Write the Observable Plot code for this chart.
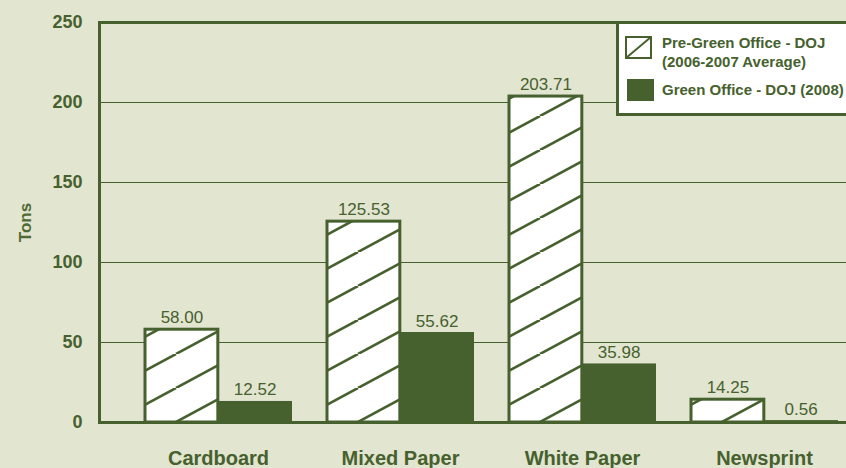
<!DOCTYPE html>
<html>
<head>
<meta charset="utf-8">
<script src="https://cdn.jsdelivr.net/npm/d3@7"></script>
<script src="https://cdn.jsdelivr.net/npm/@observablehq/plot@0.6"></script>
<style>
html, body { margin: 0; padding: 0; width: 846px; height: 468px; overflow: hidden; background: #e2e5d0; }
#chart { position: relative; width: 882px; height: 468px; }
#chart svg { display: block; background: transparent; font-family: "Liberation Sans", Arial, sans-serif; }
#chart svg g[aria-label="y-axis tick label"] text,
#chart svg g[aria-label="x-axis tick label"] text,
#chart svg g[aria-label="y-axis label"] text { font-weight: bold; }
.legend { position: absolute; left: 616px; top: 21px; width: 270px; height: 89px; border: 3px solid #46612e; background: #fff;
  font: bold 15px "Liberation Sans", Arial, sans-serif; color: #46612e; }
.legend .sw { position: absolute; }
.legend .t { position: absolute; left: 43px; line-height: 19px; white-space: nowrap; }
</style>
</head>
<body>
<div id="chart"></div>
<script>
// ---- data ----
const categories = ["Cardboard", "Mixed Paper", "White Paper", "Newsprint"];
const preGreen = [58.00, 125.53, 203.71, 14.25];
const greenOffice = [12.52, 55.62, 35.98, 0.56];
const yTicks = [0, 50, 100, 150, 200, 250];
const seriesNames = ["Pre-Green Office - DOJ (2006-2007 Average)", "Green Office - DOJ (2008)"];

// ---- layout / style ----
const GREEN = "#46612e";
const W = 882, H = 468, ML = 99, MR = 0, MT = 22, MB = 46;
const PAD_IN = 0.2, PAD_OUT = 0.24;
const step = (W - ML - MR) / (categories.length - PAD_IN + 2 * PAD_OUT);
const bw = step * (1 - PAD_IN);

const rows = categories.map((c, i) => ({category: c, pre: preGreen[i], green: greenOffice[i]}));

const svg = Plot.plot({
  width: W, height: H,
  marginLeft: ML, marginRight: MR, marginTop: MT, marginBottom: MB,
  style: {background: "transparent", color: GREEN},
  x: {domain: categories, paddingInner: PAD_IN, paddingOuter: PAD_OUT, tickSize: 0, tickPadding: 28, label: null},
  y: {domain: [0, 250], ticks: yTicks, tickSize: 0, tickPadding: 17, label: "Tons", labelAnchor: "center", labelOffset: 81, labelArrow: "none"},
  marks: [
    Plot.ruleY(yTicks.slice(1, -1), {stroke: GREEN, strokeWidth: 1}),
    Plot.barY(rows, {x: "category", y: "pre", fill: "white", stroke: GREEN, strokeWidth: 3, insetRight: bw / 2}),
    Plot.barY(rows, {x: "category", y: "green", fill: GREEN, stroke: GREEN, strokeWidth: 2, insetLeft: bw / 2}),
    Plot.text(rows, {x: "category", y: "pre", text: d => d.pre.toFixed(2), dx: -bw / 4, dy: -7, lineAnchor: "bottom", fontSize: 17, fill: GREEN}),
    Plot.text(rows, {x: "category", y: "green", text: d => d.green.toFixed(2), dx: bw / 4, dy: -7, lineAnchor: "bottom", fontSize: 17, fill: GREEN}),
    Plot.frame({stroke: GREEN, strokeWidth: 3})
  ]
});

// style axis text
svg.querySelectorAll('g[aria-label="y-axis tick label"]').forEach(g => { g.setAttribute("font-size", 18); g.setAttribute("fill", GREEN); });
svg.querySelectorAll('g[aria-label="x-axis tick label"]').forEach(g => { g.setAttribute("font-size", 20); g.setAttribute("fill", GREEN); });
svg.querySelectorAll('g[aria-label="y-axis label"]').forEach(g => { g.setAttribute("font-size", 17); g.setAttribute("fill", "#4f6b35"); });

// hatch patterns, anchored to each bar's bottom-left
const HH = 34, HW = 63;
const defs = d3.select(svg).insert("defs", ":first-child");
const barGroups = svg.querySelectorAll('g[aria-label="bar"]');
if (barGroups.length) {
  barGroups[0].querySelectorAll("rect").forEach((r, i) => {
    const x = +r.getAttribute("x"), y = +r.getAttribute("y"), h = +r.getAttribute("height");
    const id = "hatch" + i;
    const p = defs.append("pattern").attr("id", id).attr("patternUnits", "userSpaceOnUse")
      .attr("x", x + 31).attr("y", y + h).attr("width", HW).attr("height", HH);
    p.append("rect").attr("width", HW).attr("height", HH).attr("fill", "white");
    [[0, HH, HW, 0], [-HW, HH, 0, 0], [HW, HH, 2 * HW, 0]].forEach(([x1, y1, x2, y2]) =>
      p.append("line").attr("x1", x1).attr("y1", y1).attr("x2", x2).attr("y2", y2)
        .attr("stroke", GREEN).attr("stroke-width", 2.6));
    r.setAttribute("fill", `url(#${id})`);
  });
}

const chart = document.getElementById("chart");
chart.appendChild(svg);

// legend
const lg = document.createElement("div");
lg.className = "legend";
lg.innerHTML = `
  <svg class="sw" style="left:6px;top:12px" width="27" height="23"><rect x="1" y="1" width="25" height="21" fill="white" stroke="${GREEN}" stroke-width="2"/><line x1="1" y1="22" x2="26" y2="1" stroke="${GREEN}" stroke-width="2"/></svg>
  <div class="t" style="top:9px">Pre-Green Office - DOJ<br>(2006-2007 Average)</div>
  <svg class="sw" style="left:8px;top:55px" width="27" height="22"><rect width="27" height="22" fill="${GREEN}"/></svg>
  <div class="t" style="top:56px">${seriesNames[1]}</div>`;
chart.appendChild(lg);
</script>
</body>
</html>
